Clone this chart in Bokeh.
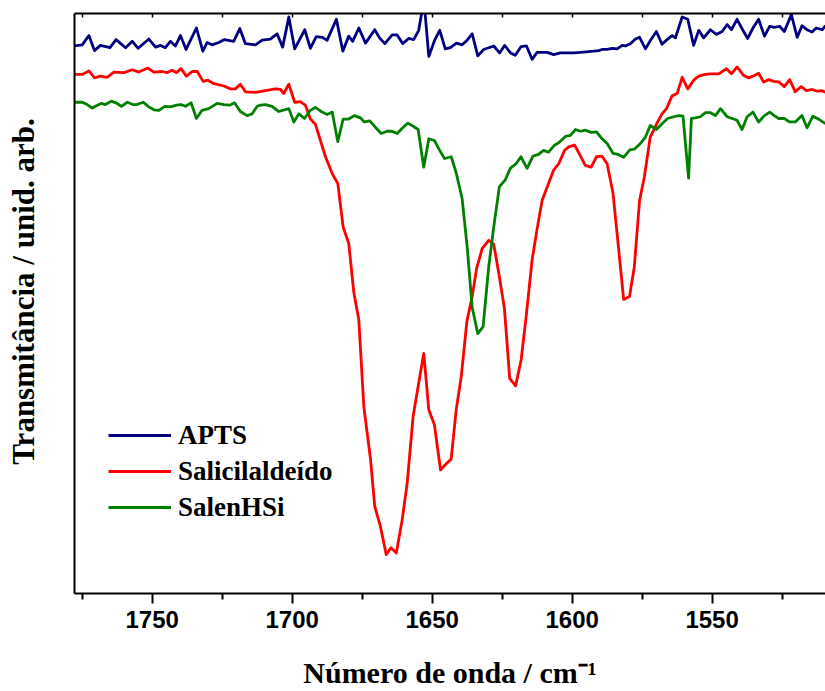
import math

from bokeh.embed import file_html
from bokeh.models import (FixedTicker, Label, Legend, LegendItem, LinearAxis,
                          Range1d)
from bokeh.plotting import figure
from bokeh.resources import INLINE

# FTIR spectra, 1780-1510 cm-1 (transmittance, arbitrary units, offset per trace)
apts_wn = [1777.8, 1775.0, 1772.6, 1770.6, 1768.5, 1765.1, 1762.9, 1759.5, 1757.1, 1755.0,
           1751.2, 1748.8, 1747.0, 1745.3, 1743.5, 1741.7, 1739.9, 1737.9, 1734.2, 1731.9,
           1730.4, 1728.6, 1726.2, 1724.2, 1720.9, 1718.7, 1716.7, 1713.1, 1710.7, 1707.8,
           1705.4, 1703.4, 1701.2, 1699.1, 1695.5, 1693.5, 1691.4, 1689.3, 1687.5, 1684.2,
           1681.9, 1679.8, 1678.4, 1676.2, 1673.8, 1670.5, 1668.8, 1666.9, 1664.3, 1662.5,
           1660.5, 1658.4, 1656.6, 1654.8, 1653.6, 1652.6, 1651.2, 1649.1, 1647.3, 1645.3,
           1643.5, 1641.3, 1639.3, 1637.5, 1635.7, 1633.7, 1631.6, 1628.0, 1625.9, 1624.1,
           1622.0, 1620.3, 1618.2, 1616.3, 1614.3, 1612.5, 1608.9, 1606.6, 1604.2, 1599.4,
           1597.0, 1592.3, 1590.5, 1589.3, 1587.5, 1585.7, 1583.9, 1582.1, 1581.0, 1579.2,
           1577.4, 1575.9, 1573.8, 1572.0, 1569.9, 1567.9, 1566.1, 1564.3, 1563.1, 1560.7,
           1558.7, 1556.6, 1554.8, 1553.0, 1550.6, 1548.5, 1546.4, 1544.6, 1543.1, 1541.1,
           1539.1, 1537.3, 1535.4, 1533.4, 1531.3, 1529.4, 1527.8, 1525.9, 1524.2, 1521.7,
           1519.6, 1517.9, 1516.1, 1514.3, 1512.8, 1510.7, 1509.5]
apts_t = [94.4, 94.6, 96.2, 93.6, 94.5, 94.1, 95.5, 94.1, 95.2, 94.0,
          95.6, 94.2, 94.5, 94.1, 95.2, 94.4, 96.2, 93.8, 97.5, 93.5,
          95.0, 94.6, 95.0, 95.5, 95.2, 97.4, 94.8, 94.6, 95.4, 95.6,
          96.5, 94.2, 99.4, 93.9, 97.2, 94.0, 96.0, 95.9, 95.4, 99.0,
          93.5, 96.1, 95.2, 97.5, 94.9, 97.2, 95.8, 94.8, 96.3, 96.3,
          94.8, 95.7, 95.5, 97.1, 100.5, 100.5, 92.6, 95.4, 97.1, 93.9,
          94.1, 94.9, 94.6, 95.4, 96.5, 92.7, 93.8, 94.4, 93.2, 94.5,
          93.2, 92.8, 94.3, 94.4, 92.1, 93.3, 93.3, 92.9, 93.2, 93.2,
          93.3, 93.5, 93.6, 93.8, 93.8, 94.0, 93.9, 94.5, 94.4, 94.8,
          95.6, 95.9, 93.9, 95.4, 96.9, 94.7, 95.5, 96.2, 95.8, 99.4,
          99.0, 94.5, 97.1, 95.8, 97.2, 96.4, 96.9, 98.1, 97.2, 99.0,
          97.2, 95.7, 97.5, 99.0, 96.1, 97.8, 97.6, 97.8, 96.9, 99.8,
          95.9, 97.9, 97.2, 96.8, 97.5, 97.2, 97.9]

sal_wn = [1777.8, 1775.0, 1772.6, 1770.6, 1768.5, 1766.1, 1763.7, 1760.1, 1757.1, 1754.8,
          1751.6, 1749.4, 1746.4, 1744.7, 1742.9, 1741.3, 1739.7, 1737.8, 1735.7, 1733.9,
          1731.8, 1730.1, 1728.0, 1724.4, 1722.0, 1720.3, 1718.5, 1716.7, 1713.1, 1709.5,
          1706.0, 1704.2, 1703.0, 1701.2, 1699.1, 1697.1, 1695.3, 1693.5, 1691.7, 1688.1,
          1685.7, 1683.7, 1681.8, 1679.8, 1678.0, 1676.2, 1674.4, 1672.0, 1670.5, 1668.5,
          1666.4, 1664.7, 1662.8, 1660.7, 1658.9, 1656.8, 1654.8, 1653.0, 1651.2, 1649.2,
          1647.0, 1645.3, 1643.2, 1641.4, 1639.6, 1637.6, 1635.7, 1634.1, 1632.1, 1629.8,
          1628.0, 1626.2, 1624.2, 1622.3, 1620.2, 1618.2, 1616.3, 1614.3, 1612.5, 1610.7,
          1608.9, 1606.6, 1604.8, 1602.7, 1601.2, 1599.1, 1597.0, 1595.3, 1593.2, 1591.3,
          1589.3, 1587.5, 1585.4, 1583.7, 1581.6, 1579.5, 1577.8, 1575.9, 1574.2, 1572.1,
          1569.9, 1567.9, 1566.3, 1564.3, 1562.5, 1560.7, 1558.7, 1556.6, 1554.8, 1552.4,
          1550.6, 1547.6, 1544.9, 1543.1, 1541.1, 1538.7, 1536.9, 1535.4, 1533.4, 1531.6,
          1529.8, 1528.0, 1526.2, 1524.2, 1522.3, 1520.3, 1518.2, 1516.3, 1514.3, 1512.5,
          1510.7, 1509.5]
sal_t = [89.5, 89.5, 90.1, 88.9, 89.2, 89.0, 89.9, 89.8, 90.3, 89.9,
         90.6, 89.9, 90.0, 89.8, 90.2, 89.8, 90.5, 89.2, 90.0, 90.0,
         88.3, 88.5, 87.9, 87.5, 87.0, 87.0, 87.8, 86.5, 86.4, 86.7,
         87.0, 86.9, 86.2, 87.8, 84.7, 84.8, 84.2, 81.8, 80.9, 75.3,
         72.4, 70.7, 63.2, 60.4, 52.0, 47.2, 32.2, 23.1, 15.0, 11.6,
         6.7, 7.9, 7.0, 12.7, 19.1, 30.5, 36.3, 41.4, 31.7, 29.1,
         21.3, 22.2, 23.2, 31.7, 37.4, 46.9, 51.2, 56.1, 59.5, 60.9,
         60.2, 55.2, 49.2, 37.1, 35.8, 40.3, 48.3, 57.5, 62.9, 67.8,
         70.1, 73.0, 74.1, 76.4, 77.0, 77.3, 75.4, 73.8, 73.5, 75.3,
         75.4, 74.1, 69.0, 60.9, 50.7, 51.2, 56.3, 67.8, 71.8, 78.7,
         80.9, 82.7, 83.6, 85.8, 86.2, 89.0, 87.0, 88.5, 89.2, 89.5,
         89.6, 89.6, 90.5, 89.6, 90.8, 89.3, 88.9, 89.2, 89.7, 88.2,
         88.6, 88.3, 88.2, 87.4, 88.6, 86.5, 87.4, 86.7, 86.9, 86.6,
         86.7, 86.4]

salen_wn = [1777.8, 1775.0, 1773.2, 1771.4, 1770.3, 1768.2, 1766.7, 1764.6, 1762.9, 1761.0,
            1758.9, 1756.9, 1755.4, 1753.2, 1751.2, 1749.4, 1747.6, 1745.5, 1743.5, 1741.3,
            1739.7, 1738.1, 1736.1, 1734.2, 1732.2, 1729.8, 1726.8, 1724.4, 1722.3, 1720.6,
            1718.5, 1716.1, 1714.3, 1712.5, 1711.3, 1709.5, 1707.2, 1704.8, 1701.2, 1699.4,
            1697.6, 1695.6, 1693.5, 1691.7, 1689.3, 1687.5, 1685.7, 1683.7, 1681.8, 1679.8,
            1677.8, 1675.6, 1674.2, 1672.3, 1670.3, 1668.2, 1666.1, 1664.3, 1662.5, 1660.7,
            1658.7, 1656.9, 1655.0, 1653.0, 1651.2, 1649.2, 1647.3, 1645.6, 1643.2, 1641.4,
            1639.3, 1637.5, 1635.7, 1633.7, 1631.8, 1629.8, 1628.0, 1626.0, 1623.9, 1622.1,
            1620.0, 1618.3, 1616.1, 1614.0, 1612.0, 1610.2, 1608.4, 1606.3, 1604.8, 1602.4,
            1600.6, 1598.8, 1597.0, 1595.3, 1593.2, 1591.3, 1589.3, 1587.5, 1585.4, 1583.6,
            1581.6, 1579.4, 1577.8, 1575.6, 1573.8, 1572.1, 1569.9, 1567.9, 1565.9, 1563.7,
            1561.9, 1560.4, 1558.4, 1557.4, 1556.0, 1554.2, 1552.4, 1550.6, 1548.8, 1547.0,
            1544.6, 1541.1, 1539.3, 1537.5, 1535.4, 1533.4, 1531.3, 1529.4, 1527.8, 1526.2,
            1524.2, 1522.3, 1520.3, 1517.9, 1516.1, 1514.0, 1512.0, 1509.5]
salen_t = [84.7, 84.7, 84.3, 83.7, 84.0, 84.5, 84.3, 84.9, 84.6, 84.0,
           84.7, 84.3, 84.3, 84.7, 83.9, 83.4, 83.3, 84.0, 83.9, 84.2,
           84.3, 84.0, 84.6, 81.9, 83.3, 83.6, 84.5, 84.3, 84.2, 84.6,
           83.1, 82.4, 82.7, 84.0, 84.2, 84.3, 84.0, 83.1, 83.6, 81.3,
           82.7, 81.9, 83.3, 83.8, 83.0, 82.6, 83.0, 77.9, 81.8, 81.8,
           82.4, 82.0, 81.3, 81.5, 80.4, 79.3, 79.7, 79.7, 79.3, 80.2,
           81.1, 80.6, 80.0, 73.5, 78.4, 78.1, 76.4, 75.0, 75.3, 72.5,
           68.1, 59.8, 49.3, 44.8, 46.0, 56.3, 63.2, 70.1, 71.3, 73.3,
           74.1, 75.3, 73.3, 75.4, 75.7, 76.4, 76.1, 77.3, 77.7, 78.8,
           79.0, 80.0, 79.7, 79.9, 79.5, 79.6, 78.4, 77.6, 75.9, 75.7,
           75.2, 76.5, 76.6, 77.6, 78.7, 80.7, 80.0, 81.0, 81.9, 82.2,
           82.4, 82.3, 71.6, 81.9, 82.0, 82.2, 82.9, 82.9, 82.4, 83.6,
           82.2, 81.6, 80.0, 82.2, 83.0, 81.3, 82.4, 83.0, 82.4, 81.9,
           81.9, 81.3, 81.3, 82.4, 80.3, 82.3, 81.8, 81.0]

major_ticks = [1750, 1700, 1650, 1600, 1550]
minor_ticks = [1775, 1725, 1675, 1625, 1575, 1525]
series_names = ["APTS", "Salicilaldeído", "SalenHSi"]
series_colors = ["#000080", "#ff0000", "#008000"]

SERIF = "Liberation Serif"
SANS = "Liberation Sans"

p = figure(width=825, height=691, output_backend="svg", toolbar_location=None,
           x_range=Range1d(1777.75, 1509.5), y_range=Range1d(0, 100),
           min_border_left=74, min_border_right=0, min_border_top=13,
           min_border_bottom=97, background_fill_color="white",
           border_fill_color="white", outline_line_color=None)
p.grid.visible = False

renderers = []
for wn, t, color in zip([apts_wn, sal_wn, salen_wn], [apts_t, sal_t, salen_t], series_colors):
    renderers.append(p.line(wn, t, line_color=color, line_width=2.8, line_join="round"))

# bottom axis: labelled majors every 50, minors in between
xa = p.xaxis[0]
xa.ticker = FixedTicker(ticks=major_ticks, minor_ticks=minor_ticks)
xa.axis_line_width = 2
xa.major_tick_line_width = 2
xa.minor_tick_line_width = 2
xa.major_tick_in = 0
xa.major_tick_out = 10
xa.minor_tick_in = 0
xa.minor_tick_out = 6
xa.major_label_text_font = SANS
xa.major_label_text_font_style = "bold"
xa.major_label_text_font_size = "24px"
xa.major_label_text_color = "black"
xa.major_label_standoff = 7
xa.axis_label = "Número de onda / cm⁻¹"
xa.axis_label_text_font = SERIF
xa.axis_label_text_font_style = "bold"
xa.axis_label_text_font_size = "30px"
xa.axis_label_text_color = "black"
xa.axis_label_standoff = 25

# left axis: plain line only
ya = p.yaxis[0]
ya.ticker = FixedTicker(ticks=[])
ya.axis_line_width = 2
ya.major_tick_in = 0
ya.major_tick_out = 0
ya.minor_tick_in = 0
ya.minor_tick_out = 0
ya.major_label_standoff = 0

# top axis: short inward ticks every 25, no labels
top = LinearAxis(ticker=FixedTicker(ticks=[], minor_ticks=sorted(major_ticks + minor_ticks)),
                 axis_line_width=2, minor_tick_line_width=1.5,
                 major_tick_in=0, major_tick_out=0, minor_tick_in=4, minor_tick_out=0,
                 major_label_standoff=0)
p.add_layout(top, "above")

# y title, placed in the left panel so it is not clipped by the frame
p.add_layout(Label(x=-16, y=302, x_units="screen", y_units="screen", angle=math.pi / 2,
                   text="Transmitância / unid. arb.", text_font=SERIF,
                   text_font_style="bold", text_font_size="31px", text_align="center",
                   text_baseline="middle", text_color="black"), "left")

legend = Legend(items=[LegendItem(label=n, renderers=[r]) for n, r in zip(series_names, renderers)],
                location=(34, 68), orientation="vertical", padding=0, margin=0,
                spacing=0, glyph_width=63, glyph_height=36, label_height=36,
                label_standoff=7, label_text_font=SERIF, label_text_font_style="bold",
                label_text_font_size="27px", label_text_color="black",
                border_line_color=None, background_fill_alpha=0)
p.add_layout(legend)

open("out.html", "w").write(file_html(p, INLINE))
